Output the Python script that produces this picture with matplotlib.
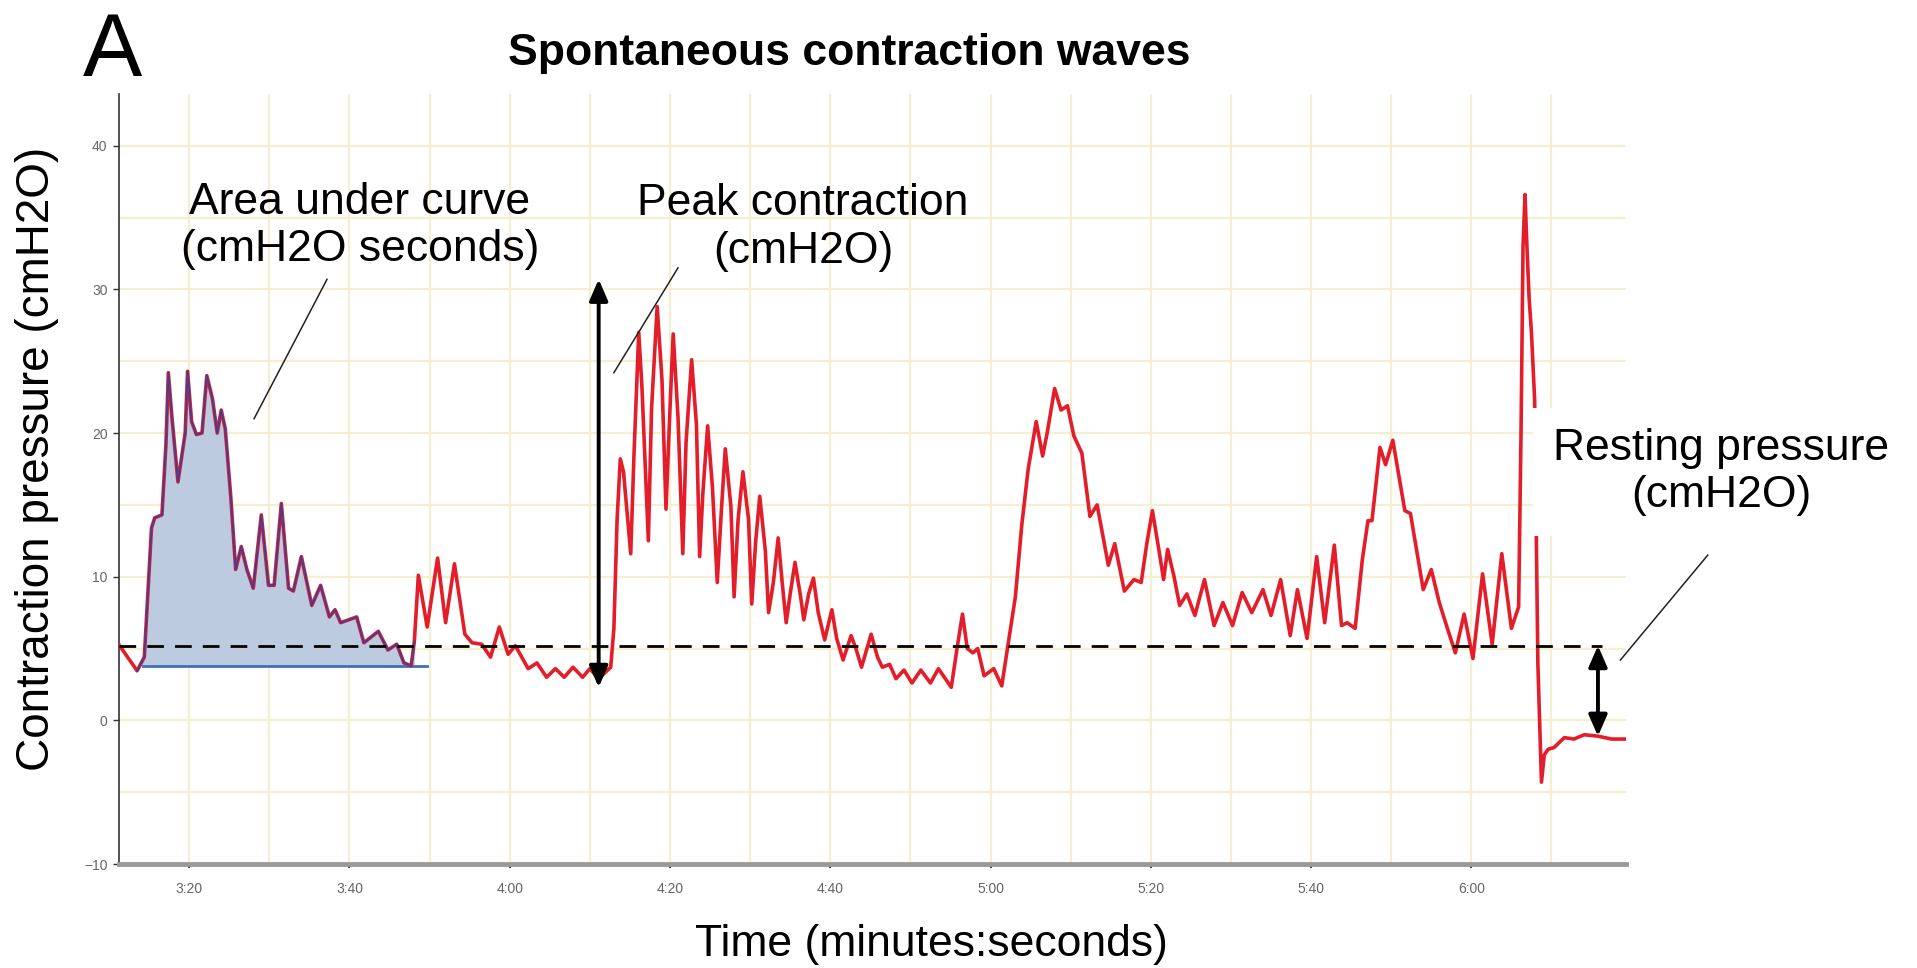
import numpy as np
import matplotlib
matplotlib.use("Agg")
import matplotlib.pyplot as plt
from matplotlib.ticker import MultipleLocator

plt.rcParams['font.family'] = ['Liberation Sans', 'DejaVu Sans']

# pressure trace: time in seconds, pressure in cmH2O
time_s = [
    191.2, 193.5, 194.4, 195.3, 195.7, 196.6, 197.1, 197.4, 197.8, 198.6, 199.5, 199.8,
    200.3, 200.9, 201.6, 202.2, 202.9, 203.5, 204.0, 204.5, 205.2, 205.8, 206.5, 207.2,
    208.0, 209.0, 209.9, 210.6, 211.5, 212.4, 213.0, 214.0, 215.3, 216.4, 217.5, 218.2,
    218.9, 220.9, 221.8, 223.6, 224.8, 225.9, 226.8, 227.7, 228.1, 228.6, 229.7, 231.0,
    232.0, 233.1, 234.4, 235.3, 236.5, 237.6, 238.7, 239.8, 240.7, 242.3, 243.4, 244.6,
    245.7, 246.8, 247.9, 249.1, 250.0, 251.1, 252.6, 253.0, 253.4, 253.8, 254.2, 255.1,
    255.5, 256.1, 256.5, 257.3, 257.7, 258.4, 259.0, 259.5, 260.0, 260.4, 261.0, 261.6,
    262.0, 262.7, 263.3, 263.7, 264.1, 264.7, 265.3, 265.9, 266.4, 266.9, 267.6, 268.0,
    268.5, 269.1, 269.8, 270.2, 270.7, 271.2, 271.9, 272.3, 272.9, 273.5, 274.0, 274.5,
    275.0, 275.6, 276.3, 276.7, 277.3, 277.9, 278.5, 279.3, 280.2, 280.8, 281.6, 282.6,
    283.2, 283.9, 285.1, 285.9, 286.5, 287.4, 288.2, 289.2, 290.2, 291.3, 292.5, 293.5,
    295.1, 295.9, 296.5, 297.1, 297.8, 298.4, 299.2, 300.4, 301.4, 302.2, 303.1, 303.9,
    304.7, 305.7, 306.5, 307.1, 308.0, 308.8, 309.6, 310.4, 311.4, 312.4, 313.3, 314.7,
    315.5, 316.7, 317.9, 318.8, 319.5, 320.2, 321.0, 321.6, 322.1, 322.9, 323.6, 324.5,
    325.5, 326.7, 327.9, 329.0, 330.2, 331.4, 332.6, 334.0, 335.0, 336.2, 337.4, 338.3,
    339.5, 340.7, 341.7, 342.9, 343.8, 344.5, 345.5, 346.4, 347.1, 347.6, 348.6, 349.3,
    350.2, 351.0, 351.7, 352.4, 353.1, 354.0, 355.0, 356.0, 356.9, 358.0, 359.1, 360.2,
    361.4, 362.6, 363.8, 365.0, 365.9, 366.2, 366.45, 366.7, 366.9, 367.2, 367.5, 367.9,
    368.1, 368.3, 368.75, 369.1, 369.6, 370.3, 371.6, 372.8, 374.1, 375.8, 377.5, 379.3,
]
pressure = [
    5.3, 3.45, 4.4, 13.4, 14.1, 14.3, 19.2, 24.2, 21.4, 16.6, 20.0, 24.3,
    20.8, 19.9, 20.0, 24.0, 22.4, 20.0, 21.6, 20.3, 15.5, 10.5, 12.1, 10.5,
    9.2, 14.3, 9.4, 9.4, 15.1, 9.2, 9.0, 11.4, 8.0, 9.4, 7.2, 7.7,
    6.8, 7.2, 5.4, 6.2, 4.9, 5.3, 4.0, 3.8, 5.5, 10.1, 6.5, 11.3,
    6.8, 10.9, 6.0, 5.4, 5.3, 4.4, 6.5, 4.6, 5.2, 3.6, 4.0, 3.0,
    3.6, 3.0, 3.7, 3.0, 3.6, 2.9, 3.7, 6.4, 14.0, 18.2, 17.3, 11.6,
    18.4, 27.0, 23.2, 12.5, 21.7, 28.8, 23.7, 14.7, 21.7, 26.9, 21.1, 11.6,
    19.3, 25.1, 20.6, 11.4, 15.8, 20.5, 16.2, 9.6, 14.5, 18.9, 14.9, 8.6,
    14.0, 17.3, 14.0, 8.1, 12.5, 15.6, 11.8, 7.5, 9.6, 12.7, 9.6, 6.8,
    8.8, 11.0, 8.6, 7.0, 8.8, 9.9, 7.5, 5.6, 7.7, 5.7, 4.2, 5.9,
    5.0, 3.7, 6.0, 4.4, 3.7, 3.9, 2.9, 3.5, 2.6, 3.5, 2.6, 3.6,
    2.3, 5.3, 7.4, 5.0, 4.7, 5.0, 3.1, 3.6, 2.4, 5.3, 8.6, 13.6,
    17.5, 20.8, 18.4, 20.1, 23.1, 21.6, 21.9, 19.8, 18.6, 14.2, 15.0, 10.8,
    12.3, 9.0, 9.8, 9.6, 12.3, 14.6, 11.9, 9.8, 11.9, 10.0, 8.0, 8.8,
    7.3, 9.8, 6.6, 8.2, 6.6, 8.9, 7.5, 9.1, 7.3, 9.8, 5.9, 9.1,
    5.7, 11.4, 6.8, 12.2, 6.6, 6.8, 6.4, 11.2, 13.9, 13.9, 19.0, 17.8,
    19.5, 16.9, 14.6, 14.4, 12.1, 9.1, 10.5, 8.2, 6.6, 4.7, 7.4, 4.3,
    10.2, 5.3, 11.6, 6.4, 7.9, 20.0, 33.0, 36.6, 33.5, 29.5, 27.0, 22.3,
    13.0, 4.0, -4.3, -2.4, -2.0, -1.9, -1.2, -1.3, -1.0, -1.1, -1.3, -1.3,
]

tick_times = [200, 220, 240, 260, 280, 300, 320, 340, 360]
tick_labels = ['3:20', '3:40', '4:00', '4:20', '4:40', '5:00', '5:20', '5:40', '6:00']
y_ticks = [-10, 0, 10, 20, 30, 40]

resting_level = 5.2          # dashed reference line
auc_baseline = 3.8           # floor of the shaded area
auc_span = (193.5, 228.1)    # shaded contraction
peak_arrow = (251.1, 2.3, 30.7)
rest_arrow = (375.8, -1.1, 5.2)

t = np.array(time_s)
p = np.array(pressure)

fig = plt.figure(figsize=(19.17, 9.68), dpi=100)
ax = fig.add_axes([0.0619, 0.1074, 0.7863, 0.7955])
ax.set_xlim(191.2, 379.3)
ax.set_ylim(-10, 43.6)

ax.set_xticks(tick_times)
ax.set_xticklabels(tick_labels)
ax.xaxis.set_minor_locator(MultipleLocator(10))
ax.set_yticks(y_ticks)
ax.yaxis.set_minor_locator(MultipleLocator(5))
ax.grid(True, which='both', color='#f4efcf', lw=1.6)
ax.set_axisbelow(True)
ax.tick_params(which='minor', length=0)
ax.tick_params(which='major', labelsize=10, labelcolor='#666666', color='#333333')
ax.tick_params(axis='x', length=3, width=1.5, pad=10)
ax.tick_params(axis='y', length=4, width=1, pad=4)
ax.spines['top'].set_visible(False)
ax.spines['right'].set_visible(False)
ax.spines['bottom'].set_color('#9a9a9a')
ax.spines['bottom'].set_linewidth(3.5)
ax.spines['left'].set_color('#333333')
ax.spines['left'].set_linewidth(1.2)

# area under the first contraction
m = (t >= auc_span[0]) & (t <= auc_span[1])
ax.fill_between(t[m], np.maximum(p[m], auc_baseline), auc_baseline,
                color='#bccbe0', lw=0, zorder=2)
ax.plot([194.2, 229.7], [auc_baseline, auc_baseline], color='#3f6fb8', lw=2, zorder=3)

ax.plot(t, p, color='#e31e2a', lw=2.6, solid_joinstyle='round', zorder=4)
ax.plot(t[m], p[m], color='#4b3c8e', lw=1.4, solid_joinstyle='round', zorder=5)

ax.plot([191.2, 376.3], [resting_level, resting_level], color='k',
        lw=2, dashes=(6, 4), zorder=6)

for x, lo, hi in [peak_arrow, rest_arrow]:
    ax.annotate('', xy=(x, hi), xytext=(x, lo), zorder=7,
                arrowprops=dict(arrowstyle='<|-|>,head_length=0.8,head_width=0.35',
                                color='k', lw=2.8, shrinkA=0, shrinkB=0,
                                mutation_scale=16))

# leader lines
ax.plot([217.2, 208.1], [30.7, 21.0], color='#222222', lw=1.1, zorder=6)
ax.plot([261.0, 253.0], [31.5, 24.2], color='#222222', lw=1.1, zorder=6)
ax.plot([389.5, 378.6], [11.5, 4.2], color='#222222', lw=1.1, zorder=6, clip_on=False)

ax.text(221.3, 34.4, 'Area under curve\n(cmH2O seconds)', ha='center', va='center',
        fontsize=32, linespacing=1.2, zorder=8)
ax.text(276.6, 34.3, 'Peak contraction\n(cmH2O)', ha='center', va='center',
        fontsize=32, linespacing=1.2, zorder=8)
ax.text(391.2, 17.3, 'Resting pressure\n(cmH2O)', ha='center', va='center',
        fontsize=32, linespacing=1.2, zorder=8,
        bbox=dict(boxstyle='square,pad=0.45', fc='white', ec='none'))

fig.text(0.0433, 0.9217, 'A', fontsize=64, ha='left', va='baseline')
fig.text(0.4432, 0.933, 'Spontaneous contraction waves', fontsize=32,
         fontweight='bold', ha='center', va='baseline')
fig.text(0.486, 0.0124, 'Time (minutes:seconds)', fontsize=32, ha='center', va='baseline')
fig.text(0.0195, 0.5263, 'Contraction pressure (cmH2O)', fontsize=33,
         rotation=90, ha='center', va='center')

fig.savefig('out.png', dpi=100)
